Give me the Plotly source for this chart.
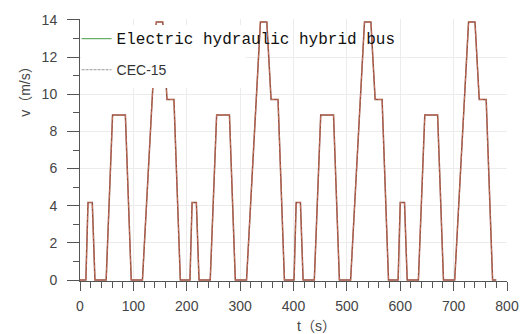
import plotly.graph_objects as go

# ECE-15 urban driving cycle repeated four times (t in s, v in m/s)
t = [0, 11, 15, 23, 28, 49, 61, 85, 96, 117, 143, 155, 163, 176, 188,
     195, 206, 210, 218, 223, 244, 256, 280, 291, 312, 338, 350, 358, 371, 383,
     390, 401, 405, 413, 418, 439, 451, 475, 486, 507, 533, 545, 553, 566, 578,
     585, 596, 600, 608, 613, 634, 646, 670, 681, 702, 728, 740, 748, 761, 773, 780]
v_cycle = [0, 0, 4.17, 4.17, 0, 0, 8.89, 8.89, 0, 0, 13.89, 13.89, 9.72, 9.72, 0,
           0, 0, 4.17, 4.17, 0, 0, 8.89, 8.89, 0, 0, 13.89, 13.89, 9.72, 9.72, 0,
           0, 0, 4.17, 4.17, 0, 0, 8.89, 8.89, 0, 0, 13.89, 13.89, 9.72, 9.72, 0,
           0, 0, 4.17, 4.17, 0, 0, 8.89, 8.89, 0, 0, 13.89, 13.89, 9.72, 9.72, 0, 0]
v_bus = list(v_cycle)

name_bus = "Electric hydraulic hybrid bus"
name_cycle = "CEC-15"

x_ticks = [0, 100, 200, 300, 400, 500, 600, 700, 800]
y_ticks = [0, 2, 4, 6, 8, 10, 12, 14]

fig = go.Figure()
fig.add_trace(go.Scatter(x=t, y=v_bus, mode="lines", showlegend=False,
                         line=dict(color="#8a4c3e", width=1.5)))
fig.add_trace(go.Scatter(x=t, y=v_cycle, mode="lines", showlegend=False,
                         line=dict(color="#c8705c", width=1.0, dash="4px,2px")))
# legend entries
fig.add_trace(go.Scatter(x=[None], y=[None], mode="lines", legendgroup="a",
                         name='<span style="font-family:Liberation Mono;font-size:16px;fill:#111">' + name_bus + '</span>',
                         line=dict(color="#6aae6a", width=1.2)))
fig.add_trace(go.Scatter(x=[None], y=[None], mode="lines", legendgroup="b",
                         name=name_cycle,
                         line=dict(color="#9a9a9a", width=1.0, dash="3px,1px")))

axis_common = dict(showline=True, linecolor="#555", linewidth=1, ticks="outside",
                   tickcolor="#555", tickwidth=1,
                   gridcolor="#ececec", gridwidth=1, zeroline=False,
                   tickfont=dict(family="Liberation Sans", size=14, color="#444"))

fig.update_layout(
    width=531, height=334,
    margin=dict(l=80, r=18, t=19, b=53),
    paper_bgcolor="white", plot_bgcolor="white",
    xaxis=dict(range=[0, 800], tickvals=x_ticks, ticklen=9, ticklabelstandoff=3,
               minor=dict(dtick=20, ticks="outside", ticklen=6, tickcolor="#555", showgrid=False),
               **axis_common),
    yaxis=dict(range=[-0.05, 14.05], tickvals=y_ticks, ticklen=12, ticklabelstandoff=7,
               minor=dict(dtick=1, ticks="outside", ticklen=6, tickcolor="#555", showgrid=False),
               **axis_common),
    legend=dict(x=-0.008, y=0.985, xanchor="left", yanchor="top",
                bgcolor="rgba(0,0,0,0)", tracegroupgap=10, itemwidth=30,
                font=dict(family="Liberation Sans", size=14, color="#333")),
    shapes=[dict(type="rect", xref="x domain", yref="y domain",
                 x0=0.003, x1=0.388, y0=0.737, y1=0.977,
                 fillcolor="white", line=dict(width=0), layer="above")],
    annotations=[
        dict(text="v（m/s）", xref="paper", yref="paper", x=-0.129, y=0.737,
             xanchor="center", yanchor="middle",
             textangle=-90, showarrow=False,
             font=dict(family="Liberation Sans, Noto Sans CJK SC", size=14, color="#444")),
        dict(text="t（s）", xref="paper", yref="paper", x=0.554, y=-0.172,
             xanchor="center", yanchor="middle",
             showarrow=False,
             font=dict(family="Liberation Sans, Noto Sans CJK SC", size=14, color="#444")),
    ],
)

fig.write_html("out.html")
